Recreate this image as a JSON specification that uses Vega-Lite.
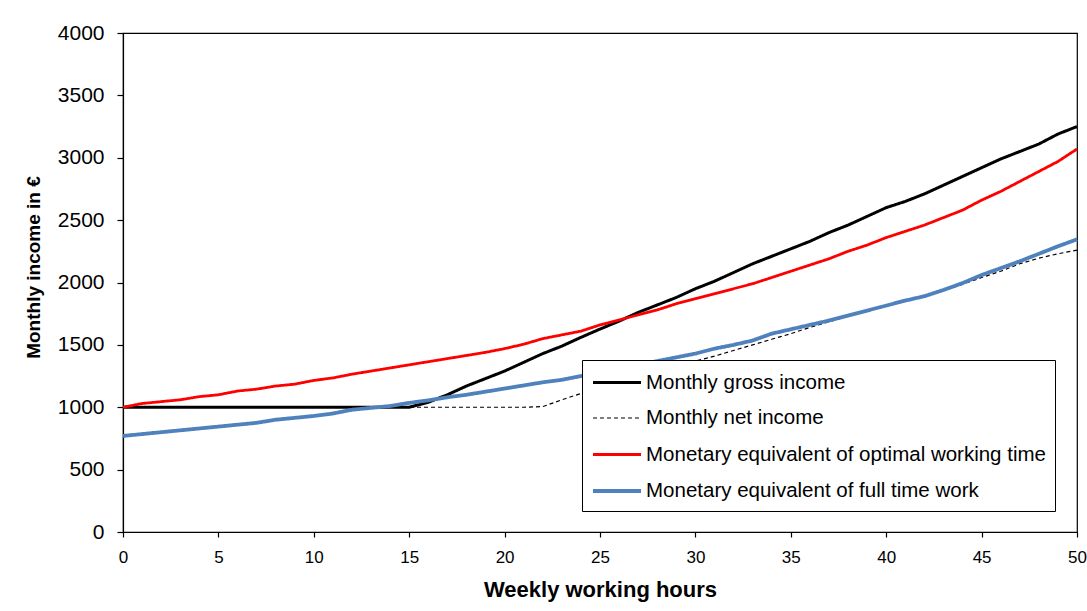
{
  "$schema": "https://vega.github.io/schema/vega-lite/v6.json",
  "width": 954,
  "height": 499,
  "autosize": "none",
  "padding": {"left": 123, "top": 33, "right": 10, "bottom": 79},
  "background": "white",
  "config": {
    "font": "Liberation Sans",
    "view": {"stroke": "black", "strokeWidth": 1.2},
    "axis": {"grid": false, "domainColor": "black", "tickColor": "black", "labelColor": "black", "titleColor": "black", "labelFont": "Liberation Sans", "titleFont": "Liberation Sans", "domainWidth": 1.2, "tickWidth": 1.2}
  },
  "data": {
    "values": [
      {"h": 0, "gross": 1000, "net": 1000, "optimal": 1000, "fulltime": 770},
      {"h": 1, "gross": 1000, "net": 1000, "optimal": 1030, "fulltime": 785},
      {"h": 2, "gross": 1000, "net": 1000, "optimal": 1045, "fulltime": 800},
      {"h": 3, "gross": 1000, "net": 1000, "optimal": 1060, "fulltime": 815},
      {"h": 4, "gross": 1000, "net": 1000, "optimal": 1085, "fulltime": 830},
      {"h": 5, "gross": 1000, "net": 1000, "optimal": 1100, "fulltime": 845},
      {"h": 6, "gross": 1000, "net": 1000, "optimal": 1130, "fulltime": 860},
      {"h": 7, "gross": 1000, "net": 1000, "optimal": 1145, "fulltime": 875},
      {"h": 8, "gross": 1000, "net": 1000, "optimal": 1170, "fulltime": 900},
      {"h": 9, "gross": 1000, "net": 1000, "optimal": 1185, "fulltime": 915},
      {"h": 10, "gross": 1000, "net": 1000, "optimal": 1215, "fulltime": 930},
      {"h": 11, "gross": 1000, "net": 1000, "optimal": 1235, "fulltime": 950},
      {"h": 12, "gross": 1000, "net": 1000, "optimal": 1265, "fulltime": 980},
      {"h": 13, "gross": 1000, "net": 1000, "optimal": 1290, "fulltime": 995},
      {"h": 14, "gross": 1000, "net": 1000, "optimal": 1315, "fulltime": 1010},
      {"h": 15, "gross": 1000, "net": 1000, "optimal": 1340, "fulltime": 1035},
      {"h": 16, "gross": 1040, "net": 1000, "optimal": 1365, "fulltime": 1055},
      {"h": 17, "gross": 1100, "net": 1000, "optimal": 1390, "fulltime": 1080},
      {"h": 18, "gross": 1170, "net": 1000, "optimal": 1415, "fulltime": 1100},
      {"h": 19, "gross": 1230, "net": 1000, "optimal": 1440, "fulltime": 1125},
      {"h": 20, "gross": 1290, "net": 1000, "optimal": 1470, "fulltime": 1150},
      {"h": 21, "gross": 1360, "net": 1000, "optimal": 1505, "fulltime": 1175},
      {"h": 22, "gross": 1430, "net": 1005, "optimal": 1550, "fulltime": 1200},
      {"h": 23, "gross": 1490, "net": 1060, "optimal": 1580, "fulltime": 1220},
      {"h": 24, "gross": 1560, "net": 1110, "optimal": 1610, "fulltime": 1250},
      {"h": 25, "gross": 1627, "net": 1160, "optimal": 1660, "fulltime": 1280},
      {"h": 26, "gross": 1690, "net": 1200, "optimal": 1700, "fulltime": 1310},
      {"h": 27, "gross": 1760, "net": 1245, "optimal": 1740, "fulltime": 1340},
      {"h": 28, "gross": 1820, "net": 1285, "optimal": 1780, "fulltime": 1370},
      {"h": 29, "gross": 1880, "net": 1325, "optimal": 1830, "fulltime": 1400},
      {"h": 30, "gross": 1950, "net": 1370, "optimal": 1870, "fulltime": 1430},
      {"h": 31, "gross": 2010, "net": 1410, "optimal": 1910, "fulltime": 1470},
      {"h": 32, "gross": 2080, "net": 1455, "optimal": 1950, "fulltime": 1500},
      {"h": 33, "gross": 2150, "net": 1500, "optimal": 1990, "fulltime": 1535},
      {"h": 34, "gross": 2210, "net": 1545, "optimal": 2040, "fulltime": 1590},
      {"h": 35, "gross": 2270, "net": 1590, "optimal": 2090, "fulltime": 1625},
      {"h": 36, "gross": 2330, "net": 1640, "optimal": 2140, "fulltime": 1660},
      {"h": 37, "gross": 2400, "net": 1685, "optimal": 2190, "fulltime": 1695},
      {"h": 38, "gross": 2460, "net": 1730, "optimal": 2250, "fulltime": 1735},
      {"h": 39, "gross": 2530, "net": 1770, "optimal": 2300, "fulltime": 1775},
      {"h": 40, "gross": 2600, "net": 1810, "optimal": 2360, "fulltime": 1815},
      {"h": 41, "gross": 2650, "net": 1850, "optimal": 2410, "fulltime": 1855},
      {"h": 42, "gross": 2710, "net": 1890, "optimal": 2460, "fulltime": 1890},
      {"h": 43, "gross": 2780, "net": 1935, "optimal": 2520, "fulltime": 1940},
      {"h": 44, "gross": 2850, "net": 1985, "optimal": 2580, "fulltime": 1995},
      {"h": 45, "gross": 2920, "net": 2040, "optimal": 2660, "fulltime": 2060},
      {"h": 46, "gross": 2990, "net": 2090, "optimal": 2730, "fulltime": 2115},
      {"h": 47, "gross": 3050, "net": 2150, "optimal": 2810, "fulltime": 2170},
      {"h": 48, "gross": 3110, "net": 2195, "optimal": 2890, "fulltime": 2230},
      {"h": 49, "gross": 3190, "net": 2230, "optimal": 2970, "fulltime": 2290},
      {"h": 50, "gross": 3250, "net": 2260, "optimal": 3070, "fulltime": 2346}
    ]
  },
  "transform": [
    {"fold": ["gross", "net", "optimal", "fulltime"], "as": ["series", "value"]}
  ],
  "mark": {"type": "line", "strokeJoin": "round", "strokeCap": "butt"},
  "encoding": {
    "x": {
      "field": "h", "type": "quantitative",
      "scale": {"domain": [0, 50], "nice": false, "zero": true},
      "axis": {"values": [0, 5, 10, 15, 20, 25, 30, 35, 40, 45, 50], "tickSize": 5, "labelFontSize": 17, "labelPadding": 12, "labelFlush": false, "title": "Weekly working hours", "titleFontSize": 22, "titleFontWeight": "bold", "titlePadding": 14}
    },
    "y": {
      "field": "value", "type": "quantitative",
      "scale": {"domain": [0, 4000], "nice": false},
      "axis": {"values": [0, 500, 1000, 1500, 2000, 2500, 3000, 3500, 4000], "format": "d", "tickSize": 6, "labelFontSize": 21, "labelPadding": 13, "labelFlush": false, "title": "Monthly income in €", "titleFontSize": 19, "titleFontWeight": "bold", "titlePadding": 14, "titleY": 234}
    },
    "color": {
      "field": "series", "type": "nominal",
      "scale": {"domain": ["gross", "net", "optimal", "fulltime"], "range": ["#000000", "#000000", "#ff0000", "#4f81bd"]},
      "legend": {
        "title": null, "orient": "none", "legendX": 459, "legendY": 327,
        "labelExpr": "datum.value == 'gross' ? 'Monthly gross income' : datum.value == 'net' ? 'Monthly net income' : datum.value == 'optimal' ? 'Monetary equivalent of optimal working time' : 'Monetary equivalent of full time work'",
        "symbolType": "M-1,0H3", "symbolSize": 576, "labelFontSize": 20.5, "labelColor": "black", "labelOffset": 27,
        "strokeColor": "black", "fillColor": "white", "padding": 9, "rowPadding": 12, "labelLimit": 600
      }
    },
    "strokeDash": {
      "field": "series", "type": "nominal",
      "scale": {"domain": ["gross", "net", "optimal", "fulltime"], "range": [[1, 0], [4, 3], [1, 0], [1, 0]]}
    },
    "strokeWidth": {
      "field": "series", "type": "nominal",
      "scale": {"type": "ordinal", "domain": ["gross", "net", "optimal", "fulltime"], "range": [3, 1.2, 2.8, 3.8]}
    }
  }
}
